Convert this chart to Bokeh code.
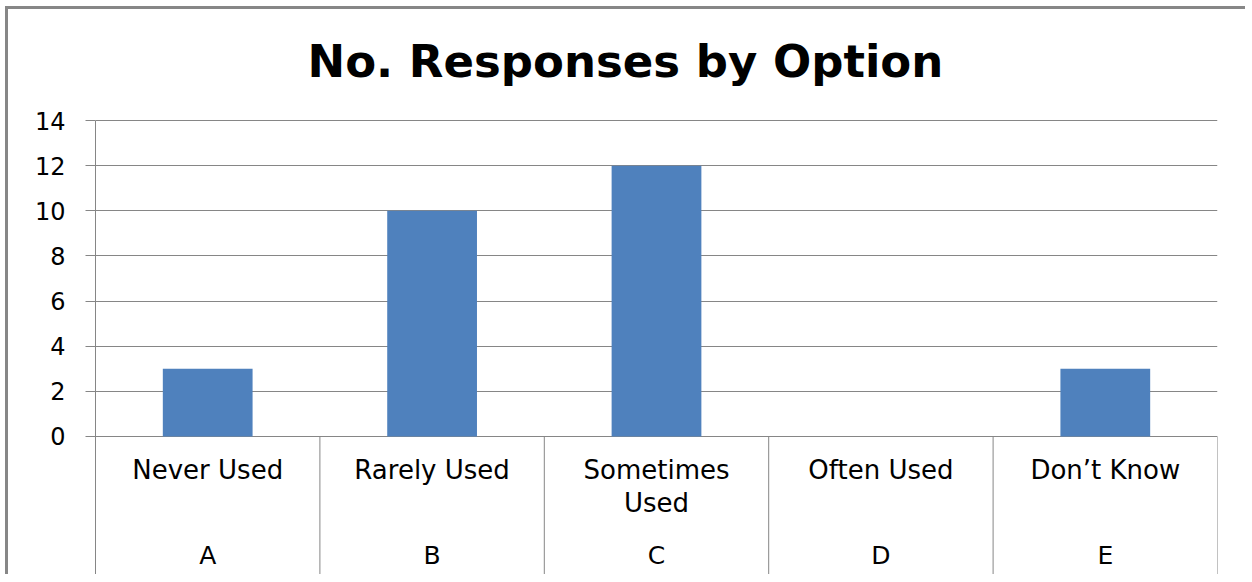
from bokeh.plotting import figure
from bokeh.models import Range1d, FixedTicker, ColumnDataSource
from bokeh.core.properties import value
from bokeh.embed import file_html
from bokeh.resources import INLINE

title = "No. Responses by Option"
options = ["Never Used", "Rarely Used", "Sometimes\nUsed", "Often Used", "Don\u2019t Know"]
codes = ["A", "B", "C", "D", "E"]
counts = [3, 10, 12, 0, 3]
y_ticks = [0, 2, 4, 6, 8, 10, 12, 14]

FONT = "DejaVu Sans"
GRID = "#868686"
y_max = 14
y_view_top = 18.92     # room above the axis for the title
y_view_bottom = -6.25  # room below the axis for the category labels

n = len(codes)
p = figure(width=1240, height=568, output_backend="svg", toolbar_location=None,
           x_range=Range1d(0, n), y_range=Range1d(y_view_bottom, y_view_top),
           x_axis_location=None, min_border_left=87, min_border_right=31,
           min_border_top=0, min_border_bottom=0,
           styles={"border-left": "3px solid #878787", "border-top": "3px solid #878787",
                   "margin-left": "5px", "margin-top": "6px"})
p.outline_line_color = None
p.background_fill_color = "white"
p.border_fill_color = "white"

# chart title, anchored to the top of the value axis
p.text(x=[0], y=[y_max], text=[title], text_font=value(FONT), text_font_size="45px",
       text_font_style="bold", text_color="black", text_align="left",
       text_baseline="alphabetic", x_offset=212, y_offset=-59)

centers = [i + 0.5 for i in range(n)]
src = ColumnDataSource(dict(x=centers, top=counts, opt=options, code=codes))
p.vbar(x="x", top="top", bottom=0, width=0.4, source=src,
       fill_color="#4F81BD", line_color=None)

# category separator lines below the axis
seps = list(range(1, n + 1))
p.segment(x0=seps, y0=[y_view_bottom] * len(seps), x1=seps, y1=[0] * len(seps),
          line_color=GRID, line_width=1)

p.text(x="x", y=0, text="opt", source=src, text_font=value(FONT),
       text_font_size="26px", text_align="center", text_baseline="top",
       y_offset=19, text_line_height=1.08, text_color="black")
p.text(x="x", y=0, text="code", source=src, text_font=value(FONT),
       text_font_size="25px", text_align="center", text_baseline="top",
       y_offset=105, text_color="black")

p.yaxis.ticker = FixedTicker(ticks=y_ticks)
p.yaxis.bounds = (y_view_bottom, y_max)
p.yaxis.axis_line_color = GRID
p.yaxis.major_tick_line_color = GRID
p.yaxis.major_tick_out = 10
p.yaxis.major_tick_in = 0
p.yaxis.minor_tick_line_color = None
p.yaxis.major_label_text_font = FONT
p.yaxis.major_label_text_font_size = "24px"
p.yaxis.major_label_text_color = "black"
p.yaxis.major_label_standoff = 20
p.ygrid.ticker = FixedTicker(ticks=y_ticks)
p.ygrid.grid_line_color = GRID
p.xgrid.grid_line_color = None

open("out.html", "w").write(file_html(p, INLINE))
